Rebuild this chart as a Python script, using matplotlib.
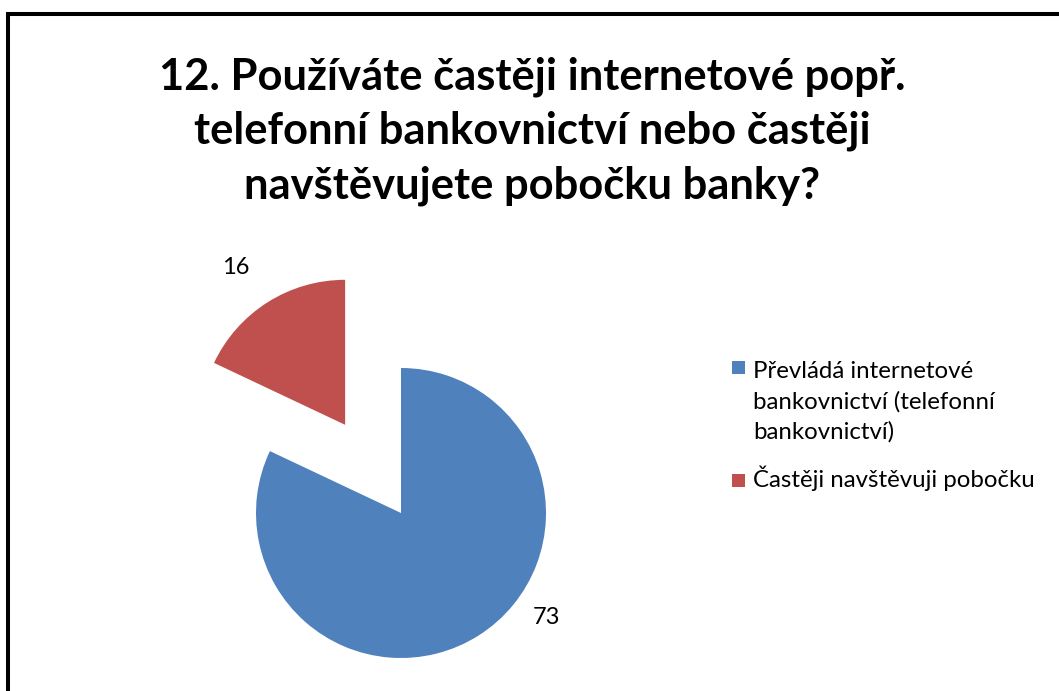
import matplotlib
matplotlib.use("Agg")
import matplotlib.pyplot as plt
from matplotlib.patches import Rectangle

categories = ["Převládá internetové\nbankovnictví (telefonní\nbankovnictví)",
              "Častěji navštěvuji pobočku"]
values = [73, 16]
colors = ["#4F81BD", "#C0504D"]
title = "12. Používáte častěji internetové popř.\ntelefonní bankovnictví nebo častěji\nnavštěvujete pobočku banky?"

W, H, DPI = 1059, 691, 100
fig = plt.figure(figsize=(W / DPI, H / DPI), dpi=DPI)
fig.patch.set_facecolor("white")

# Pie axes: unit radius = 145 px, pie centred at (401, 513) px from top-left
R = 145.0
cx, cy = 401.0, H - 513.0
ax = fig.add_axes([0, 0, 1, 1])
ax.axis("off")

wedges, _ = ax.pie(values, colors=colors, startangle=90, counterclock=False,
                   explode=[0, 0.72], radius=1.0, center=(0, 0),
                   wedgeprops=dict(linewidth=0))
ax.set_aspect("auto")
ax.set_xlim(-cx / R, (W - cx) / R)
ax.set_ylim(-cy / R, (H - cy) / R)

font = "Lato"
# value labels
ax.text((546 - cx) / R, (H - 617 - cy) / R, str(values[0]), ha="center", va="center",
        fontsize=17, family=font, color="black")
ax.text((236 - cx) / R, (H - 267 - cy) / R, str(values[1]), ha="center", va="center",
        fontsize=17, family=font, color="black")

# title
fig.text(532 / W, 1 - 131 / H, title, ha="center", va="center", fontsize=31.3,
         fontweight="bold", family=font, linespacing=1.43)

# legend: marker baseline (first line) and text baseline (last line)
marker_base = [374, 487]
text_base = [439, 487]
for cat, col, ym, yt in zip(categories, colors, marker_base, text_base):
    fig.patches.append(Rectangle((732 / W, 1 - ym / H), 13 / W, 13 / H,
                                 transform=fig.transFigure, facecolor=col,
                                 edgecolor="none"))
    fig.text(753 / W, 1 - yt / H, cat, ha="left", va="baseline", fontsize=17.3,
             family=font, linespacing=1.5)

# chart area border
fig.patches.append(Rectangle((8 / W, -0.1), 1.2, 1 - 14 / H + 0.1,
                             transform=fig.transFigure, facecolor="none",
                             edgecolor="black", linewidth=2.9))

fig.savefig("out.png", dpi=DPI)
